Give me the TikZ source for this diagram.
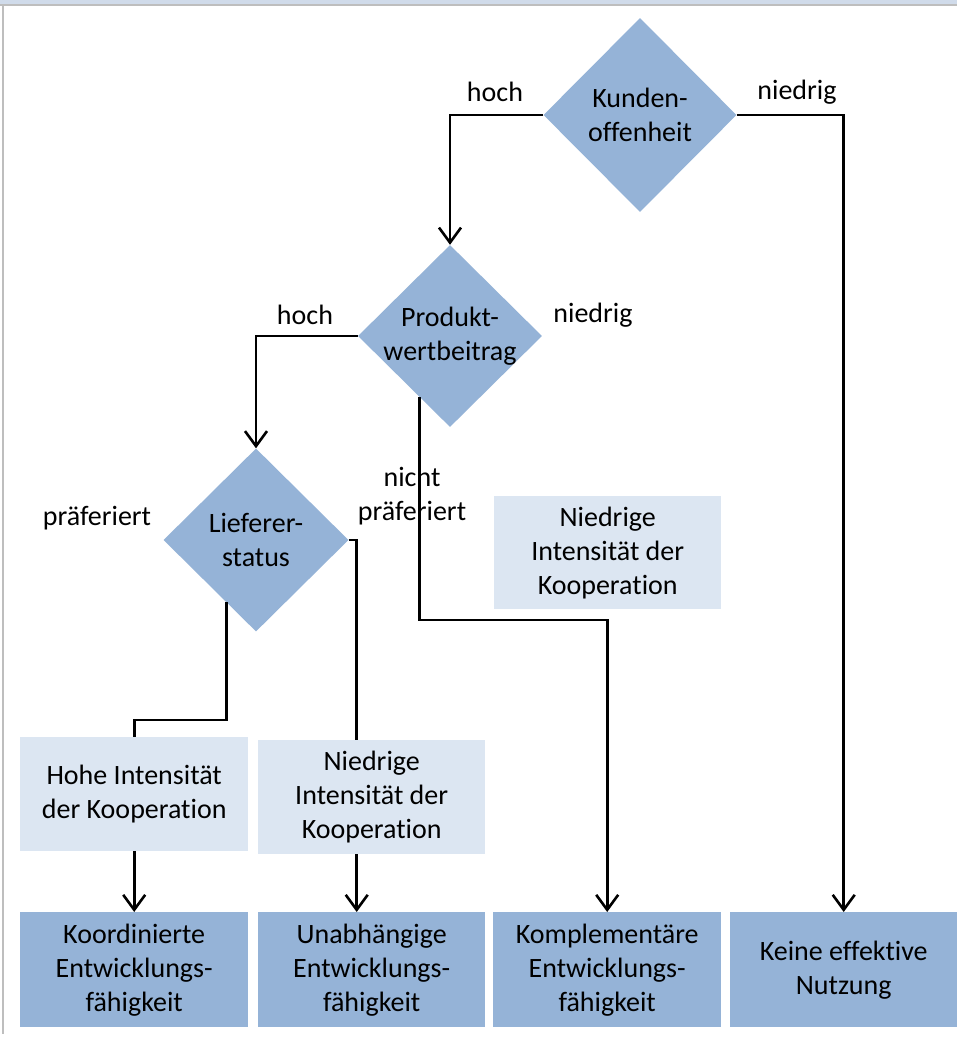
\documentclass[tikz,border=0pt]{standalone}
\usepackage{fontspec}
\setmainfont{Carlito}[Ligatures={NoCommon}]
\usetikzlibrary{shapes.geometric,arrows.meta,calc}
\definecolor{dark}{HTML}{95B3D7}
\definecolor{light}{HTML}{DCE6F2}
\definecolor{band}{HTML}{D0DBEA}
\definecolor{frame}{HTML}{BEBEBE}
\begin{document}
\begin{tikzpicture}[x=1pt,y=-1pt,
  txt/.style={font=\fontsize{28}{34}\selectfont,align=center,text=black},
  dia/.style={txt,diamond,fill=dark,inner sep=0pt,aspect=1},
  lbox/.style={txt,fill=light,anchor=north west,inner sep=0pt},
  dbox/.style={txt,fill=dark,anchor=north west,inner sep=0pt},
  conn/.style={line width=2.6pt,draw=black},
  arr/.style={conn,-{Straight Barb[length=15pt,width=22pt,line width=2.6pt]}},
  lab/.style={txt,inner sep=0pt}]
\useasboundingbox (0,0) rectangle (957,1037);
\fill[white] (0,0) rectangle (957,1037);
% frame
\fill[band] (0,0) rectangle (957,4);
\draw[frame,line width=2pt] (0,5) -- (957,5);
\draw[frame,line width=2pt] (3,5) -- (3,1034);
% diamonds
\node[dia,minimum width=193,minimum height=194] (d1) at (640,115) {Kunden-\\offenheit};
\node[dia,inner sep=-3pt,minimum width=184,minimum height=182] (d2) at (450,336) {Produkt-\\wertbeitrag};
\node[dia,minimum width=185,minimum height=183] (d3) at (256,540) {Lieferer-\\status};
% light boxes
\node[lbox,minimum width=227,minimum height=113] (n0) at (494,496) {Niedrige\\Intensität der\\Kooperation};
\node[lbox,minimum width=228,minimum height=114] (h1) at (20,737) {Hohe Intensität\\der Kooperation};
\node[lbox,minimum width=227,minimum height=114] (n1) at (258,740) {Niedrige\\Intensität der\\Kooperation};
% dark boxes
\node[dbox,minimum width=228,minimum height=115] (k1) at (20,912) {Koordinierte\\Entwicklungs-\\fähigkeit};
\node[dbox,minimum width=227,minimum height=115] (k2) at (258,912) {Unabhängige\\Entwicklungs-\\fähigkeit};
\node[dbox,minimum width=228,minimum height=115] (k3) at (493,912) {Komplementäre\\Entwicklungs-\\fähigkeit};
\node[dbox,minimum width=227,minimum height=115] (k4) at (730,912) {Keine effektive\\Nutzung};
% labels
\node[lab] (l1) at (495,92) {hoch};
\node[lab] (l2) at (797,92) {niedrig};
\node[lab] (l3) at (305,315) {hoch};
\node[lab] (l4) at (593,315) {niedrig};
\node[lab] (l5) at (412,496) {nicht\\präferiert};
\node[lab] (l6) at (97,518) {präferiert};
% connectors
\draw[arr] (d1.west) -| (d2.north);
\draw[arr] (d1.east) -| (k4.north);
\draw[arr] (d2.west) -| (d3.north);
\coordinate (p2) at ($(d2.south)!0.33!(d2.west)$);
\draw[arr] (p2) -- (p2 |- 0,620) -| (k3.north);
\coordinate (p3) at ($(d3.south)!0.32!(d3.west)$);
\draw[conn] (p3) -- (p3 |- 0,720) -| (h1.north);
\coordinate (p4) at ($(n1.north)+(-15,0)$);
\draw[conn] (d3.east) -| (p4);
\draw[arr] (h1.south) -- (k1.north);
\coordinate (p5) at ($(n1.south)+(-15,0)$);
\coordinate (p6) at ($(k2.north)+(-15,0)$);
\draw[arr] (p5) -- (p6);
\end{tikzpicture}
\end{document}
